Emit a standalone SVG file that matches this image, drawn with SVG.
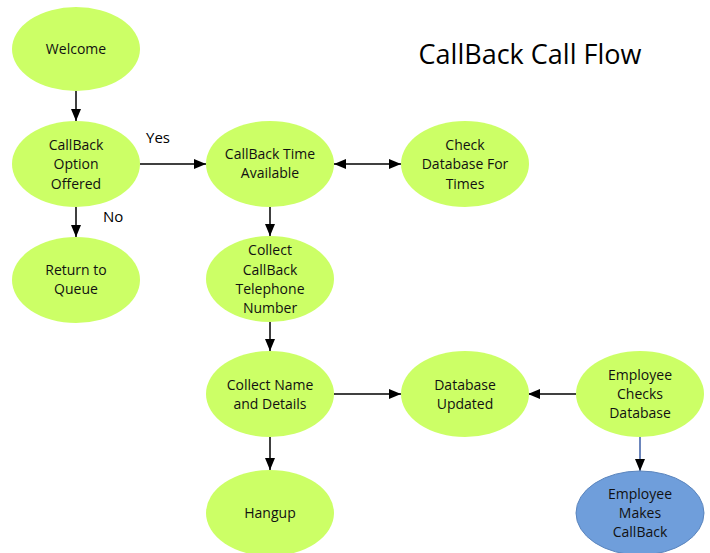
<svg xmlns="http://www.w3.org/2000/svg" width="710" height="553" viewBox="0 0 710 553">
<defs>
<marker id="ah" viewBox="0 0 12 10" refX="12" refY="5" markerWidth="12" markerHeight="10" markerUnits="userSpaceOnUse" orient="auto-start-reverse">
<path d="M0,0 L12,5 L0,10 Z" fill="#000"/>
</marker>
<style>
.n{fill:#ccff66;stroke:none}
.b{fill:#6f9edb;stroke:#5b85bd;stroke-width:1}
.t{font-family:"Open Sans","Liberation Sans",sans-serif;font-size:14px;fill:#111;text-anchor:middle}
.c{stroke:#000;stroke-width:1.5;fill:none;marker-end:url(#ah)}
.lbl{font-family:"Open Sans","Liberation Sans",sans-serif;font-size:15px;fill:#000}
</style>
</defs>
<rect width="710" height="553" fill="#fff"/>
<text x="530" y="64" style="font-family:'Open Sans','Liberation Sans',sans-serif;font-size:27px;fill:#000;text-anchor:middle">CallBack Call Flow</text>
<g id="connectors">
<line class="c" x1="76" y1="91" x2="76" y2="121"/>
<line class="c" x1="140" y1="164" x2="206" y2="164"/>
<line class="c" x1="76" y1="207" x2="76" y2="237"/>
<line class="c" x1="334" y1="164" x2="401" y2="164" style="marker-start:url(#ah)"/>
<line class="c" x1="270" y1="207" x2="270" y2="236"/>
<line class="c" x1="270" y1="322" x2="270" y2="351"/>
<line class="c" x1="334" y1="394" x2="401" y2="394"/>
<line class="c" x1="576" y1="394" x2="528" y2="394"/>
<line class="c" x1="270" y1="437" x2="270" y2="470"/>
<line class="c" x1="640" y1="437" x2="640" y2="471" style="stroke:#3b5ea6"/>
<text class="lbl" x="146" y="143">Yes</text>
<text class="lbl" x="103" y="222">No</text>
</g>
<g id="welcome"><ellipse class="n" cx="76" cy="49" rx="64" ry="42"/><text class="t" x="76" y="54">Welcome</text></g>
<g id="option"><ellipse class="n" cx="76" cy="164" rx="64" ry="43"/><text class="t" x="76" y="150">CallBack</text><text class="t" x="76" y="169">Option</text><text class="t" x="76" y="189">Offered</text></g>
<g id="return"><ellipse class="n" cx="76" cy="280" rx="64" ry="43"/><text class="t" x="76" y="275">Return to</text><text class="t" x="76" y="294">Queue</text></g>
<g id="time"><ellipse class="n" cx="270" cy="164" rx="64" ry="43"/><text class="t" x="270" y="159">CallBack Time</text><text class="t" x="270" y="178">Available</text></g>
<g id="check"><ellipse class="n" cx="465" cy="164" rx="64" ry="43"/><text class="t" x="465" y="150">Check</text><text class="t" x="465" y="169">Database For</text><text class="t" x="465" y="189">Times</text></g>
<g id="phone"><ellipse class="n" cx="270" cy="279" rx="64" ry="43"/><text class="t" x="270" y="255">Collect</text><text class="t" x="270" y="275">CallBack</text><text class="t" x="270" y="294">Telephone</text><text class="t" x="270" y="313">Number</text></g>
<g id="name"><ellipse class="n" cx="270" cy="394" rx="64" ry="43"/><text class="t" x="270" y="390">Collect Name</text><text class="t" x="270" y="409">and Details</text></g>
<g id="db"><ellipse class="n" cx="465" cy="394" rx="64" ry="43"/><text class="t" x="465" y="390">Database</text><text class="t" x="465" y="409">Updated</text></g>
<g id="emp"><ellipse class="n" cx="640" cy="394" rx="64" ry="43"/><text class="t" x="640" y="380">Employee</text><text class="t" x="640" y="399">Checks</text><text class="t" x="640" y="418">Database</text></g>
<g id="hangup"><ellipse class="n" cx="270" cy="513" rx="64" ry="43"/><text class="t" x="270" y="518">Hangup</text></g>
<g id="callback"><ellipse class="b" cx="640" cy="513" rx="64" ry="42"/><text class="t" x="640" y="499">Employee</text><text class="t" x="640" y="518">Makes</text><text class="t" x="640" y="537">CallBack</text></g>
</svg>
